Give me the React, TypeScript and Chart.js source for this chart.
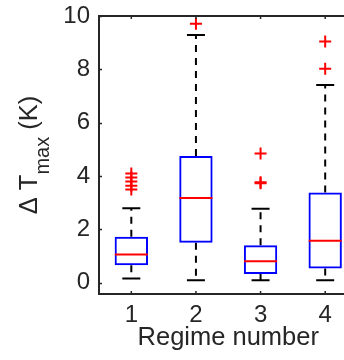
import React, { useEffect, useRef } from "react";
import { Chart, registerables } from "chart.js";

Chart.register(...registerables);

// ---- data ----
const categories = [1, 2, 3, 4];
const q1 = [0.66, 1.5, 0.33, 0.54];
const median = [1.06, 3.18, 0.81, 1.58];
const q3 = [1.73, 4.75, 1.41, 3.38];
const whiskerLow = [0.16, 0.1, 0.1, 0.1];
const whiskerHigh = [2.79, 9.29, 2.78, 7.41];
const outliers1 = [3.5, 3.64, 3.8, 3.95, 4.1];
const outliers2 = [9.71];
const outliers3 = [3.73, 3.77, 4.85];
const outliers4 = [8.02, 9.04];
const yTicks = [0, 2, 4, 6, 8, 10];
const xTicks = [1, 2, 3, 4];
const xTitle = "Regime number";
const yTitleMain = "\u0394 T";
const yTitleSub = "max";
const yTitleTail = " (K)";

// ---- styles ----
const AXIS = "#262626";
const FAMILY = '"Liberation Sans", Arial, Helvetica, sans-serif';
const BLUE = "#0000ff";
const RED = "#ff0000";

const zeroPadding = (s: any) => {
  s.paddingTop = 0;
  s.paddingBottom = 0;
  s.paddingLeft = 0;
  s.paddingRight = 0;
};

const decorPlugin = {
  id: "decor",
  afterDraw(chart: any) {
    const { ctx, chartArea: a, scales } = chart;
    const x = scales.x;
    const y = scales.y;
    ctx.save();
    ctx.strokeStyle = AXIS;
    ctx.lineWidth = 2;
    ctx.beginPath();
    ctx.moveTo(a.left - 1, a.top);
    ctx.lineTo(a.right, a.top);
    ctx.stroke();
    ctx.lineWidth = 1.5;
    ctx.beginPath();
    for (const v of yTicks) {
      const py = Math.round(y.getPixelForValue(v)) + 0.5;
      ctx.moveTo(a.left, py);
      ctx.lineTo(a.left + 3, py);
    }
    for (const v of xTicks) {
      const px = x.getPixelForValue(v);
      ctx.moveTo(px, a.bottom);
      ctx.lineTo(px, a.bottom - 3);
      ctx.moveTo(px, a.top);
      ctx.lineTo(px, a.top + 3);
    }
    ctx.stroke();

    // y-axis title with subscript
    const mainFont = `25.5px ${FAMILY}`;
    const subFont = `20px ${FAMILY}`;
    ctx.fillStyle = AXIS;
    ctx.textAlign = "left";
    ctx.textBaseline = "alphabetic";
    ctx.font = mainFont;
    const w1 = ctx.measureText(yTitleMain).width;
    const w3 = ctx.measureText(yTitleTail).width;
    ctx.font = subFont;
    const w2 = ctx.measureText(yTitleSub).width;
    const total = w1 + w2 + w3;
    const cy = (a.top + a.bottom) / 2;
    ctx.translate(37, cy);
    ctx.rotate(-Math.PI / 2);
    const x0 = -total / 2;
    ctx.font = mainFont;
    ctx.fillText(yTitleMain, x0, 0);
    ctx.font = subFont;
    ctx.fillText(yTitleSub, x0 + w1, 12);
    ctx.font = mainFont;
    ctx.fillText(yTitleTail, x0 + w1 + w2, 0);
    ctx.restore();
  },
};

function buildDatasets() {
  const ds: any[] = [];
  categories.forEach((c, i) => {
    const whisker = {
      type: "line",
      borderColor: "#000000",
      borderWidth: 2,
      borderDash: [7, 6],
      pointRadius: 0,
      fill: false,
      order: 6,
    };
    ds.push({ ...whisker, data: [{ x: c, y: q3[i] }, { x: c, y: whiskerHigh[i] }] });
    ds.push({ ...whisker, data: [{ x: c, y: q1[i] }, { x: c, y: whiskerLow[i] }] });
  });
  ds.push({
    type: "bar",
    data: categories.map((c, i) => ({ x: c, y: [q1[i], q3[i]] })),
    backgroundColor: "rgba(0,0,0,0)",
    borderColor: BLUE,
    borderWidth: 2,
    borderSkipped: false,
    inflateAmount: 0,
    barPercentage: 0.516,
    categoryPercentage: 1,
    grouped: false,
    order: 5,
  });
  const marker = (data: any[], style: string, radius: number, color: string, order: number) => ({
    type: "scatter",
    data,
    showLine: false,
    pointStyle: style,
    pointRadius: radius,
    pointHoverRadius: radius,
    pointBorderColor: color,
    pointBackgroundColor: color,
    pointBorderWidth: 2,
    order,
  });
  ds.push(marker(categories.map((c, i) => ({ x: c, y: whiskerHigh[i] })), "line", 9, "#000000", 4));
  ds.push(marker(categories.map((c, i) => ({ x: c, y: whiskerLow[i] })), "line", 9, "#000000", 4));
  ds.push(marker(categories.map((c, i) => ({ x: c, y: median[i] })), "line", 16.5, RED, 3));
  const outlierSets = [outliers1, outliers2, outliers3, outliers4];
  const outlierPoints: any[] = [];
  outlierSets.forEach((vals, i) => vals.forEach((v) => outlierPoints.push({ x: categories[i], y: v })));
  ds.push(marker(outlierPoints, "cross", 6, RED, 2));
  return ds;
}

export default function App() {
  const ref = useRef<HTMLCanvasElement>(null);
  useEffect(() => {
    const chart = new Chart(ref.current as HTMLCanvasElement, {
      type: "bar",
      data: { datasets: buildDatasets() } as any,
      options: {
        animation: false,
        responsive: true,
        maintainAspectRatio: false,
        devicePixelRatio: 1,
        layout: { autoPadding: false, padding: { left: 0, top: 16, right: 2.5, bottom: 0 } },
        plugins: { legend: { display: false }, tooltip: { enabled: false } },
        scales: {
          x: {
            type: "linear",
            min: 0.5,
            max: 4.5,
            offset: false,
            afterBuildTicks: (s: any) => {
              s.ticks = xTicks.map((v) => ({ value: v }));
            },
            afterFit: (s: any) => {
              s.height = 66;
              zeroPadding(s);
            },
            ticks: {
              color: AXIS,
              padding: 7,
              font: { family: FAMILY, size: 24 },
              callback: (v: any) => String(v),
            },
            grid: { drawOnChartArea: false, drawTicks: false, offset: false },
            border: { color: AXIS, width: 2 },
            title: {
              display: true,
              text: xTitle,
              color: AXIS,
              font: { family: FAMILY, size: 25.5 },
              padding: { top: 0, bottom: 7 },
            },
          },
          y: {
            type: "linear",
            min: -0.42,
            max: 10,
            beginAtZero: false,
            afterBuildTicks: (s: any) => {
              s.ticks = yTicks.map((v) => ({ value: v }));
            },
            afterFit: (s: any) => {
              s.width = 99;
              zeroPadding(s);
            },
            ticks: {
              color: AXIS,
              padding: 9,
              font: { family: FAMILY, size: 24 },
              callback: (v: any) => String(v),
            },
            grid: { drawOnChartArea: false, drawTicks: false },
            border: { color: AXIS, width: 2 },
          },
        },
      } as any,
      plugins: [decorPlugin],
    });
    return () => chart.destroy();
  }, []);
  return (
    <div
      style={{
        position: "fixed",
        left: 0,
        top: 0,
        width: 344,
        height: 360,
        overflow: "hidden",
        background: "#ffffff",
      }}
    >
      <div style={{ position: "absolute", left: 0, top: 0, width: 360, height: 360 }}>
        <canvas ref={ref} />
      </div>
    </div>
  );
}
